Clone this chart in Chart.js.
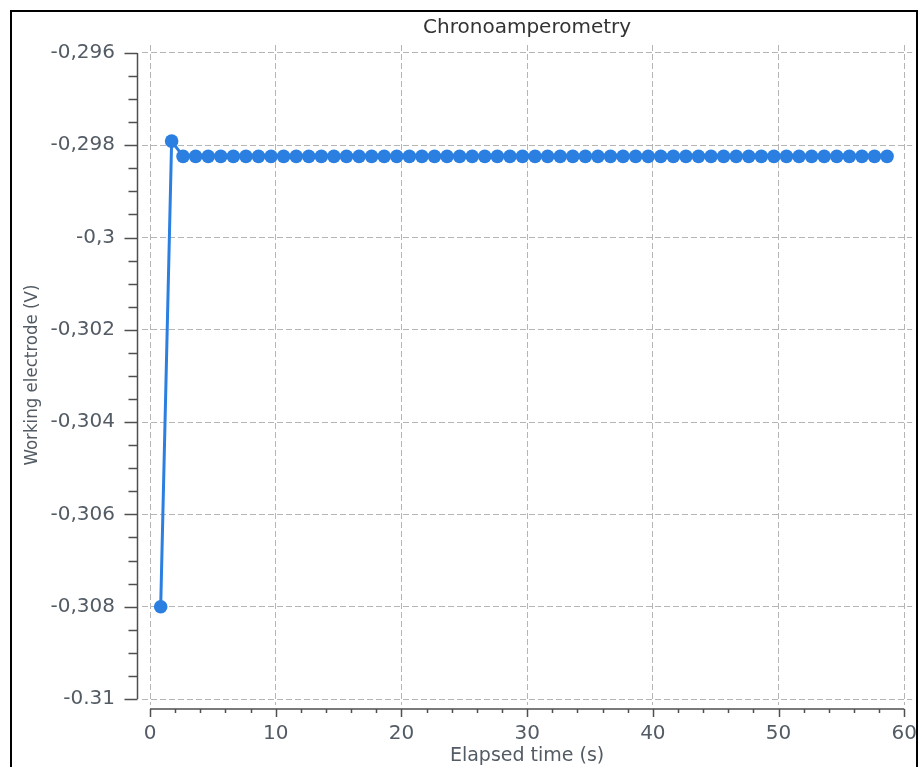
<!DOCTYPE html>
<html>
<head>
<meta charset="utf-8">
<script src="https://cdn.jsdelivr.net/npm/chart.js@4.4.0/dist/chart.umd.min.js"></script>
<style>
  html, body { margin: 0; padding: 0; background: #fff; }
  canvas { display: block; }
</style>
</head>
<body>
<canvas id="grafica" width="919" height="767"></canvas>
<script>
// Datos (tiempo en s, potencial en V)
const TIEMPOS = [
  0.85, 1.72, 2.63, 3.63, 4.63, 5.63, 6.63, 7.63, 8.63, 9.63,
  10.63, 11.63, 12.63, 13.63, 14.63, 15.63, 16.63, 17.63, 18.63, 19.63,
  20.63, 21.63, 22.63, 23.63, 24.63, 25.63, 26.63, 27.63, 28.63, 29.63,
  30.63, 31.63, 32.63, 33.63, 34.63, 35.63, 36.63, 37.63, 38.63, 39.63,
  40.63, 41.63, 42.63, 43.63, 44.63, 45.63, 46.63, 47.63, 48.63, 49.63,
  50.63, 51.63, 52.63, 53.63, 54.63, 55.63, 56.63, 57.63, 58.63
];
const POTENCIALES = [
  -0.308, -0.29791, -0.29824, -0.29824, -0.29824, -0.29824, -0.29824, -0.29824, -0.29824, -0.29824,
  -0.29824, -0.29824, -0.29824, -0.29824, -0.29824, -0.29824, -0.29824, -0.29824, -0.29824, -0.29824,
  -0.29824, -0.29824, -0.29824, -0.29824, -0.29824, -0.29824, -0.29824, -0.29824, -0.29824, -0.29824,
  -0.29824, -0.29824, -0.29824, -0.29824, -0.29824, -0.29824, -0.29824, -0.29824, -0.29824, -0.29824,
  -0.29824, -0.29824, -0.29824, -0.29824, -0.29824, -0.29824, -0.29824, -0.29824, -0.29824, -0.29824,
  -0.29824, -0.29824, -0.29824, -0.29824, -0.29824, -0.29824, -0.29824, -0.29824, -0.29824
];

// Marcas de los ejes
const X_TICKS = [0, 10, 20, 30, 40, 50, 60];
const X_LABELS = ['0', '10', '20', '30', '40', '50', '60'];
const Y_TICKS = [-0.296, -0.298, -0.300, -0.302, -0.304, -0.306, -0.308, -0.310];
const Y_LABELS = ['-0,296', '-0,298', '-0,3', '-0,302', '-0,304', '-0,306', '-0,308', '-0.31'];

const COLOR_SERIE = '#2b7fe0';
const COLOR_TEXTO = '#535b64';
const FUENTE = "'DejaVu Sans', 'Open Sans', sans-serif";

// Ejes desplazados con marcas menores + marco negro
const pluginEjes = {
  id: 'ejes',
  afterDraw(chart) {
    const ctx = chart.ctx;
    const xs = chart.scales.x;
    const ys = chart.scales.y;
    const area = chart.chartArea;
    ctx.save();
    ctx.strokeStyle = '#4f4f4f';
    ctx.lineWidth = 1.5;

    // eje X
    const yEje = area.bottom + 4;
    ctx.beginPath();
    ctx.moveTo(xs.getPixelForValue(X_TICKS[0]), yEje);
    ctx.lineTo(xs.getPixelForValue(X_TICKS[X_TICKS.length - 1]), yEje);
    for (let v = X_TICKS[0]; v <= X_TICKS[X_TICKS.length - 1] + 1e-9; v += 2) {
      const px = Math.round(xs.getPixelForValue(v)) + 0.5;
      const largo = (Math.abs(v % 10) < 1e-9) ? 8 : 4;
      ctx.moveTo(px, yEje);
      ctx.lineTo(px, yEje + largo);
    }
    ctx.stroke();

    // eje Y
    const xEje = area.left - 4.5;
    ctx.beginPath();
    ctx.moveTo(xEje, ys.getPixelForValue(Y_TICKS[0]));
    ctx.lineTo(xEje, ys.getPixelForValue(Y_TICKS[Y_TICKS.length - 1]));
    for (let i = 0; i <= 28; i++) {
      const v = Y_TICKS[Y_TICKS.length - 1] + i * 0.0005;
      const py = Math.round(ys.getPixelForValue(v)) + 0.5;
      const largo = (i % 4 === 0) ? 13 : 9;
      ctx.moveTo(xEje, py);
      ctx.lineTo(xEje - largo, py);
    }
    ctx.stroke();

    // marco
    ctx.fillStyle = '#000';
    ctx.fillRect(10, 10, 2, 757);
    ctx.fillRect(10, 10, 908, 2);
    ctx.fillRect(916, 10, 2, 757);
    ctx.restore();
  }
};

const ctx = document.getElementById('grafica').getContext('2d');
new Chart(ctx, {
  type: 'line',
  data: {
    labels: TIEMPOS,
    datasets: [{
      data: TIEMPOS.map((t, i) => ({ x: t, y: POTENCIALES[i] })),
      borderColor: COLOR_SERIE,
      backgroundColor: COLOR_SERIE,
      borderWidth: 3,
      pointRadius: 6.8,
      pointBorderWidth: 0,
      pointHoverRadius: 6.8,
      tension: 0
    }]
  },
  options: {
    responsive: false,
    animation: false,
    layout: { padding: { left: 0, right: 1, top: 0, bottom: 0 } },
    plugins: {
      legend: { display: false },
      tooltip: { enabled: false },
      title: {
        display: true,
        text: 'Chronoamperometry',
        fullSize: false,
        color: '#333',
        font: { family: FUENTE, size: 20, weight: 'normal', lineHeight: 1.2 },
        padding: { top: 16, bottom: 5 }
      }
    },
    scales: {
      x: {
        type: 'linear',
        min: -0.6366,
        max: 60.63,
        afterFit: s => { s.height = 62; s.paddingLeft = 0; s.paddingRight = 0; },
        afterBuildTicks: s => { s.ticks = X_TICKS.map(v => ({ value: v })); },
        grid: { color: '#b5b5b5', lineWidth: 1, drawTicks: false },
        border: { display: false, dash: [6, 3] },
        ticks: {
          autoSkip: false,
          maxRotation: 0,
          padding: 17,
          color: COLOR_TEXTO,
          font: { family: FUENTE, size: 20 },
          callback: (v, i) => X_LABELS[i]
        },
        title: {
          display: true,
          text: 'Elapsed time (s)',
          color: COLOR_TEXTO,
          font: { family: FUENTE, size: 19, lineHeight: 1.2 },
          padding: { top: 0, bottom: 0 }
        }
      },
      y: {
        type: 'linear',
        min: -0.31013,
        max: -0.295827,
        afterFit: s => { s.width = 142; s.paddingTop = 0; s.paddingBottom = 0; },
        afterBuildTicks: s => { s.ticks = Y_TICKS.map(v => ({ value: v })); },
        grid: { color: '#b5b5b5', lineWidth: 1, drawTicks: false },
        border: { display: false, dash: [6, 3] },
        ticks: {
          autoSkip: false,
          padding: 27,
          color: COLOR_TEXTO,
          font: { family: FUENTE, size: 20 },
          callback: (v, i) => Y_LABELS[i]
        },
        title: {
          display: true,
          text: 'Working electrode (V)',
          color: COLOR_TEXTO,
          font: { family: "'DejaVu Sans Condensed', 'DejaVu Sans', sans-serif", size: 18.5, lineHeight: 1.2 },
          padding: { top: 21, bottom: 0 }
        }
      }
    }
  },
  plugins: [pluginEjes]
});
</script>
</body>
</html>
